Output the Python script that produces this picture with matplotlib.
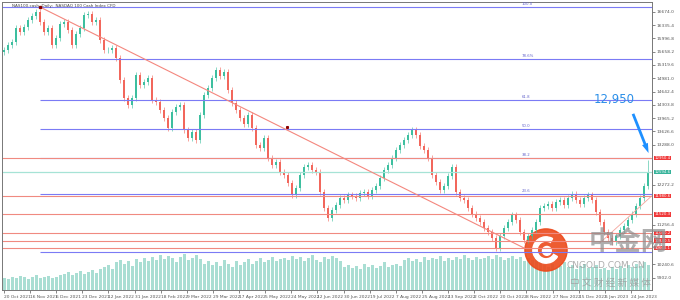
import matplotlib.pyplot as plt
import numpy as np
from matplotlib.patches import Rectangle, Circle, Wedge

# 日线收盘价 (NAS100.cash)
closes = [
    15700, 15830, 15900, 16260, 16160, 16290, 16460, 16570, 16670, 16410,
    16160, 16260, 15830, 16000, 16360, 16410, 16210, 15830, 16110, 16260,
    16590, 16620, 16410, 16460, 15950, 15700, 15700, 15750, 15500, 14940,
    14480, 14300, 14480, 15060, 14810, 14890, 14990, 14430, 14380, 14170,
    13970, 13710, 14120, 14250, 14300, 13660, 13460, 13610, 13410, 14040,
    14550, 14730, 14990, 15190, 15040, 15140, 14680, 14350, 14170, 13970,
    13820, 14040, 13710, 13280, 13200, 13460, 12950, 12770, 12850, 12590,
    12520, 12310, 12010, 12190, 12520, 12720, 12770, 12640, 12590, 12080,
    11680, 11420, 11630, 11750, 11930, 11880, 12010, 11980, 11930, 12060,
    12080, 11980, 12140, 12240, 12440, 12640, 12770, 12950, 13150, 13280,
    13410, 13540, 13660, 13540, 13260, 13150, 12950, 12520, 12340, 12140,
    12240, 12490, 12720, 12080, 11930, 11880, 11680, 11520, 11420, 11320,
    11170, 11070, 10910, 10660, 10960, 11170, 11320, 11500, 11370, 11070,
    10860, 10960, 11120, 11320, 11680, 11730, 11780, 11680, 11830, 11880,
    11750, 11930, 12030, 11880, 11780, 11930, 12010, 11880, 11580, 11320,
    11070, 10910, 10810, 10960, 11120, 11220, 11370, 11520, 11730, 11930,
    12240, 12590,
]
first_open = 15650

volumes = [
    11, 10, 12, 11, 13, 12, 10, 12, 14, 11, 12, 13, 11, 12, 14,
    15, 17, 14, 16, 18, 15, 17, 19, 16, 20,
    22, 24, 20, 26, 28, 25, 27, 23, 29, 26,
    30, 27, 31, 28, 33, 29, 32, 30, 26, 31, 34, 28, 30, 33, 29,
    25, 27, 24, 26, 23, 28, 25, 22, 27, 24, 26, 29, 25, 27, 30, 26, 28, 31, 27, 29,
    30, 28, 32, 29, 31, 27, 30, 33, 28, 26, 31, 29, 32, 30, 27,
    22, 24, 21, 23, 20, 25, 22, 24, 21, 23, 26, 22, 24, 25, 23,
    28, 30, 27, 29, 26, 31, 28, 30, 29, 32, 27, 30, 28, 31, 29, 33, 30, 28, 31, 29,
    30, 32, 29, 33, 31, 28, 30, 32, 29, 31, 27, 30, 28, 32, 30,
    24, 22, 25, 21, 23, 26, 22, 24, 20, 23, 25, 21, 22, 24, 20,
    21, 19, 22, 20, 23, 21, 24, 22, 25, 23, 26, 24,
]

date_labels = ['20 Oct 2021', '16 Nov 2021', '6 Dec 2021', '23 Dec 2021', '12 Jan 2022',
               '31 Jan 2022', '18 Feb 2022', '9 Mar 2022', '29 Mar 2022', '17 Apr 2022',
               '5 May 2022', '24 May 2022', '12 Jun 2022', '30 Jun 2022', '19 Jul 2022',
               '7 Aug 2022', '25 Aug 2022', '13 Sep 2022', '2 Oct 2022', '20 Oct 2022',
               '8 Nov 2022', '27 Nov 2022', '15 Dec 2022', '5 Jan 2023', '24 Jan 2023']

# 价格刻度 (被红色标签盖住的几个不显示)
price_ticks = [16674.0, 16335.4, 15996.8, 15658.2, 15319.6, 14981.0, 14642.4, 14303.8,
               13965.2, 13626.6, 13288.0, 12272.2, 11256.4, 10240.6, 9902.0]

# 斐波那契回撤
fib_low, fib_high = 10560, 16800
fib_levels = [0.0, 23.6, 38.2, 50.0, 61.8, 78.6, 100.0]
fib_names = ['0.0', '23.6', '38.2', '50.0', '61.8', '78.6%', '100.0']

# 水平支撑/阻力线
red_levels = [12950.4, 11980.6, 11520.3, 11040.2, 10840.5, 10660.1]
last_price = 12594.6

# 下降趋势线
trend_idx = [9, 130]
trend_price = [16794, 10659]
trend2_idx = [149, 162]
trend2_price = [10790, 11990]

BULL = '#3dbf9f'
BEAR = '#f2675c'

fig = plt.figure(figsize=(6.8, 3.0), dpi=100)
fig.patch.set_facecolor('white')
pos = [2 / 680, 10 / 300, 650 / 680, 288 / 300]

axv = fig.add_axes(pos)
axv.set_zorder(0)
x = np.arange(len(closes))
axv.bar(x, volumes, width=0.75, color='#a9ded3', edgecolor='none')
axv.set_xlim(-0.5, 162)
axv.set_ylim(0, max(volumes) * 8.0)
axv.axis('off')

ax = fig.add_axes(pos, sharex=axv)
ax.set_zorder(1)
ax.patch.set_alpha(0)

opens = [first_open] + closes[:-1]
for i, (o, c) in enumerate(zip(opens, closes)):
    col = BULL if c >= o else BEAR
    hi = max(o, c) + 70
    lo = min(o, c) - 70
    if i == len(closes) - 1:
        hi = 12900
    ax.vlines(i, lo, hi, color=col, lw=0.6, alpha=0.7)
    ax.add_patch(Rectangle((i - 0.3, min(o, c)), 0.6, max(abs(c - o), 10),
                           facecolor=col, edgecolor='none'))

for lv, nm in zip(fib_levels, fib_names):
    p = fib_low + (fib_high - fib_low) * lv / 100
    start = -0.5 if lv == 100.0 else 9
    ax.hlines(p, start, 162, color='#7b7bf5', lw=0.8)
    if lv > 0:
        ax.text(129.5, p + 25, nm, fontsize=2.8, color='#6666cc', va='bottom')

for p in red_levels:
    ax.axhline(p, color='#f08a80', lw=0.8)
ax.axhline(last_price, color='#a6e3d6', lw=0.9)

ax.plot(trend_idx, trend_price, color='#f4877e', lw=0.8)
ax.plot(trend2_idx, trend2_price, color='#f4a49c', lw=0.6)
ax.plot(trend_idx[0], trend_price[0], 's', color='#8b0000', ms=1.5)
ax.plot(70.8, 13750, 's', color='#8b0000', ms=1.2)

ax.annotate('', xy=(161.4, 13010), xytext=(157, 14140),
            arrowprops=dict(arrowstyle='simple,head_length=0.7,head_width=0.45,tail_width=0.2',
                            color='#1e90ff', lw=0))
ax.text(152.5, 14430, '12,950', color='#2b8fe8', fontsize=8.5, ha='center', va='center')

ax.set_xlim(-0.5, 162)
ax.set_ylim(9589, 16922)
ax.yaxis.tick_right()
ax.set_yticks(price_ticks)
ax.set_yticklabels([f'{t:.1f}' for t in price_ticks], fontsize=3.2, color='#333333')
ax.set_xticks(np.arange(len(date_labels)) * 6.53)
ax.set_xticklabels(date_labels, fontsize=3.2, color='#333333', ha='left')
ax.tick_params(length=2, width=0.5, pad=1.5, colors='#555555')
for s in ax.spines.values():
    s.set_color('#777777')
    s.set_linewidth(0.7)

tr = ax.get_yaxis_transform()
for p in red_levels:
    ax.text(1.004, p, f'{p:.1f}', transform=tr, fontsize=2.8, color='white', va='center',
            bbox=dict(boxstyle='square,pad=0.1', fc='#f0393a', ec='none'))
ax.text(1.004, last_price, f'{last_price:.1f}', transform=tr, fontsize=2.8, color='white',
        va='center', bbox=dict(boxstyle='square,pad=0.1', fc='#36b39a', ec='none'))

ax.text(0.016, 0.993, 'NAS100.cash, Daily:  NASDAQ 100 Cash Index CFD', transform=ax.transAxes,
        fontsize=3.0, color='#444444', va='top')

# 水印
logo = fig.add_axes([524 / 680, 1 - 272 / 300, 44 / 680, 44 / 300])
logo.add_patch(Circle((0.5, 0.5), 0.48, color='#ec4a1c', alpha=0.9))
logo.add_patch(Wedge((0.5, 0.5), 0.3, 60, 330, width=0.1, color='white'))
logo.add_patch(Circle((0.52, 0.48), 0.1, color='white'))
logo.set_xlim(0, 1)
logo.set_ylim(0, 1)
logo.set_aspect('equal')
logo.axis('off')

fig.text(628 / 680, 1 - 243 / 300, '中金网', family=['Noto Sans CJK SC', 'DejaVu Sans'],
         fontsize=19, fontweight='bold', color='#8c8c8c', alpha=0.7, ha='center', va='center')
fig.text(606 / 680, 1 - 265 / 300, 'CNGOLD.COM.CN', fontsize=6.5, color='#9a9a9a', alpha=0.8,
         ha='center', va='center')
fig.text(610 / 680, 1 - 283 / 300, '中 文 财 经 新 媒 体', family=['Noto Sans CJK SC', 'DejaVu Sans'],
         fontsize=7, color='#9a9a9a', alpha=0.8, ha='center', va='center')

fig.savefig('out.png', dpi=100)
